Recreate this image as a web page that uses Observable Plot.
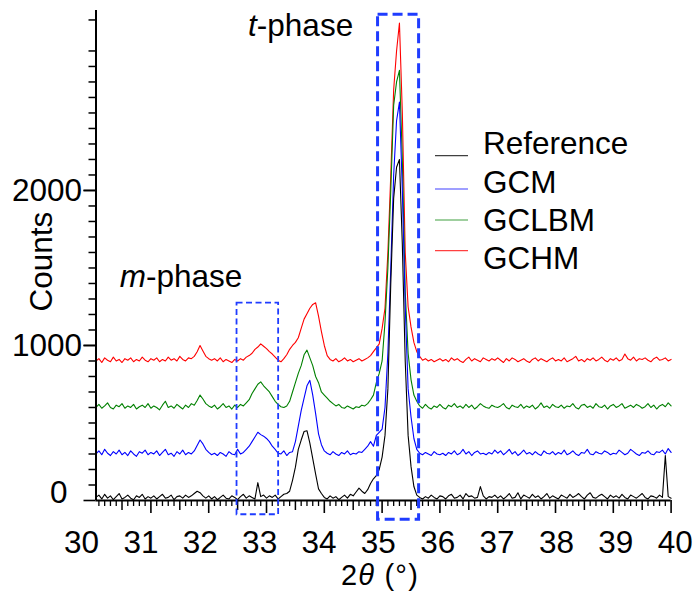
<!DOCTYPE html>
<html><head><meta charset="utf-8">
<script src="https://cdn.jsdelivr.net/npm/d3@7"></script>
<script src="https://cdn.jsdelivr.net/npm/@observablehq/plot@0.6"></script>
<style>body{margin:0;background:#fff} #chart{width:693px;height:594px}</style>
</head><body><div id="chart"></div>
<script>
// 2θ scan grid
const twoThetaStart = 30.05, twoThetaStep = 0.05;

// Counts, one value per 0.05° step (rows = 1° each)
const reference = [
 20,35,10,40,15,30,5,25,45,10,20,35,15,5,30,20,40,10,25,15,
 30,10,25,40,15,20,35,5,25,30,15,35,20,30,45,60,50,30,15,30,
 10,25,5,20,35,15,10,30,20,5,25,40,15,30,20,10,115,25,35,15,
 30,20,35,10,25,40,45,60,130,215,330,390,445,450,370,270,170,75,45,20,
 10,30,15,25,5,20,35,15,40,30,55,80,60,45,70,110,140,160,200,280,
 420,720,1400,1950,2150,2200,1650,900,420,220,90,35,20,10,25,15,35,20,10,30,
 25,10,30,40,15,20,35,10,45,25,30,15,20,90,30,10,25,20,35,15,
 30,10,25,45,15,20,50,10,35,25,15,40,20,30,10,25,45,15,30,20,
 10,35,25,15,40,20,30,45,25,10,35,50,20,15,30,40,25,10,35,20,
 30,15,40,20,10,35,25,15,30,45,20,10,30,25,15,35,20,290,25,15
];
const gcm = [
 300,320,295,330,305,290,315,300,325,295,310,290,320,300,285,315,305,325,295,310,
 300,320,290,310,330,295,305,285,315,300,325,295,310,300,320,355,390,365,330,310,
 295,305,290,310,300,285,315,300,295,330,300,310,330,350,380,410,440,425,415,400,
 380,350,330,305,300,320,290,310,315,380,480,580,660,740,775,680,560,430,360,320,
 305,295,315,300,290,310,300,320,295,305,300,315,310,330,350,380,350,420,440,460,
 600,950,1500,2100,2450,2570,2000,1250,720,540,400,330,305,295,310,300,290,315,300,295,
 305,290,310,300,320,295,305,330,300,315,290,310,320,300,305,295,310,300,325,305,
 320,295,310,330,300,315,290,305,325,300,310,295,315,300,290,320,305,300,315,295,
 310,300,325,295,305,320,300,290,310,305,330,300,295,315,305,300,320,310,295,305,
 300,325,310,295,305,330,315,300,290,310,305,320,300,295,315,310,325,300,335,310
];
const gclbm = [
 600,620,595,610,630,600,590,615,605,625,595,610,600,620,590,605,615,600,625,595,
 610,600,585,615,640,600,610,595,620,605,590,615,600,625,615,645,680,655,625,610,
 600,615,590,605,625,600,610,590,615,600,620,610,630,650,690,720,750,765,740,720,
 700,670,640,620,605,600,610,640,700,760,820,870,940,970,920,870,800,760,700,680,
 660,640,625,610,620,600,595,610,600,590,605,600,615,610,625,650,680,760,820,900,
 1150,1500,2000,2550,2700,2775,2200,1350,950,780,680,640,610,595,620,600,590,610,600,620,
 600,590,615,605,625,600,610,595,620,600,615,590,605,625,610,600,595,615,605,600,
 610,625,600,590,615,605,600,620,595,610,600,615,590,605,630,600,610,595,620,605,
 600,615,595,610,605,625,600,590,615,620,600,610,595,625,605,600,615,590,610,620,
 600,610,625,595,605,615,600,620,610,595,605,625,600,615,590,610,620,605,630,610
];
const gchm = [
 900,915,890,920,905,895,925,900,910,890,915,905,920,895,910,900,925,905,895,915,
 905,920,895,910,900,925,905,915,900,930,910,900,920,915,930,960,1000,965,930,915,
 905,915,900,920,895,910,900,890,910,900,915,905,925,935,950,975,990,1010,995,980,
 960,945,925,905,895,915,940,975,1000,1020,1050,1110,1170,1205,1240,1265,1275,1190,1090,1000,
 935,910,900,915,895,905,920,900,910,895,905,915,900,910,920,935,960,985,1010,1110,
 1240,1600,2100,2650,2900,3080,2500,1600,1250,1120,1020,960,930,905,915,900,910,895,905,915,
 900,910,895,920,905,915,900,890,910,925,900,915,905,895,920,910,900,915,905,920,
 905,890,915,900,920,910,895,905,915,900,890,910,920,900,915,905,895,910,920,900,
 910,900,920,895,905,915,930,900,910,895,915,905,920,900,910,925,905,895,915,905,
 920,900,910,945,915,905,925,900,915,910,920,905,895,915,925,905,910,920,900,910
];

const seriesNames = ["Reference", "GCM", "GCLBM", "GCHM"];
const seriesColors = ["#000000", "#0000ff", "#008000", "#ff0000"];
const seriesValues = [reference, gcm, gclbm, gchm];

const xTickLabels = [30, 31, 32, 33, 34, 35, 36, 37, 38, 39, 40];
const yTickLabels = [1000, 2000];

// Highlighted regions (2θ range, counts range)
const mPhaseBox = [{x1: 32.49, x2: 33.21, y1: -92, y2: 1273}];
const tPhaseBox = [{x1: 34.93, x2: 35.64, y1: -124, y2: 3134}];

// ---- build table ----
const rows = [];
seriesValues.forEach((vals, s) => vals.forEach((v, i) => rows.push({
  series: seriesNames[s], twoTheta: +(twoThetaStart + i * twoThetaStep).toFixed(2), counts: v
})));
const drawOrder = ["GCHM", "GCLBM", "GCM", "Reference"];
rows.sort((a, b) => drawOrder.indexOf(a.series) - drawOrder.indexOf(b.series));

const xMajor = xTickLabels.filter(d => d > 30);
const xHalf = d3.range(30.5, 40, 1);
const xMinor = d3.range(301, 400).filter(d => d % 5 !== 0).map(d => d / 10);
const yMajor = [0, 1000, 2000];
const yMinor = d3.range(100, 3200, 100).filter(d => d % 1000 !== 0);

const font = "'Liberation Sans', Arial, Helvetica, sans-serif";
const FS = 31.5;

const plot = Plot.plot({
  width: 693, height: 594,
  marginLeft: 95.5, marginRight: 22.4, marginTop: 10, marginBottom: 94,
  x: {domain: [30.05, 40], axis: null},
  y: {domain: [0, 3161], axis: null},
  color: {domain: seriesNames, range: seriesColors},
  style: {fontFamily: font, fontSize: FS + "px", background: "white", color: "black"},
  marks: [
    Plot.line(rows, {x: "twoTheta", y: "counts", z: "series", stroke: "series", strokeWidth: 1.1}),
    Plot.axisX({ticks: xMinor, tickSize: 6, tickFormat: () => "", strokeWidth: 1.3}),
    Plot.axisX({ticks: xHalf, tickSize: 10, tickFormat: () => "", strokeWidth: 1.5}),
    Plot.axisX({ticks: xMajor, tickSize: 13, tickFormat: () => "", strokeWidth: 1.6}),
    Plot.text(xTickLabels, {x: d => 29.80 + (d - 30) * 1.027, y: 0, dy: 42, text: d => String(d), fontSize: FS}),
    Plot.axisY({ticks: yMinor, tickSize: 7, tickFormat: () => "", strokeWidth: 1.5}),
    Plot.axisY({ticks: yMajor, tickSize: 12, tickFormat: () => "", strokeWidth: 1.6}),
    Plot.axisY({ticks: yTickLabels, tickSize: 12, tickPadding: 2, tickFormat: d => String(d), fontSize: FS, strokeWidth: 1.6}),
    Plot.text([0], {x: 30.05, y: 0, dx: -28.5, dy: -8, text: d => String(d), textAnchor: "end", fontSize: FS}),
    Plot.ruleY([0], {strokeWidth: 2}),
    Plot.ruleX([30.05], {strokeWidth: 2}),
    Plot.rect(mPhaseBox, {x1: "x1", x2: "x2", y1: "y1", y2: "y2", fill: "none", stroke: "#1f3cff", strokeWidth: 1.8, strokeDasharray: "6,3.5"}),
    Plot.rect(tPhaseBox, {x1: "x1", x2: "x2", y1: "y1", y2: "y2", fill: "none", stroke: "#1f3cff", strokeWidth: 3, strokeDasharray: "10,5"})
  ]
});
document.getElementById("chart").appendChild(plot);

// ---- annotations, axis titles, legend ----
const svg = d3.select(plot);
const xs = plot.scale("x"), ys = plot.scale("y");
const phaseLabels = [
  {ital: "t", rest: "-phase", x: 32.69, y: 3063},
  {ital: "m", rest: "-phase", x: 30.47, y: 1443}
];
phaseLabels.forEach(p => {
  const t = svg.append("text").attr("x", xs.apply(p.x)).attr("y", ys.apply(p.y)).attr("dy", "0.35em")
    .attr("text-anchor", "start")
    .attr("font-size", FS).attr("font-family", font).attr("fill", "black");
  t.append("tspan").attr("font-style", "italic").text(p.ital);
  t.append("tspan").text(p.rest);
});

const xt = svg.append("text").attr("x", 380).attr("y", 585).attr("text-anchor", "middle")
  .style("font-size", "29px").attr("letter-spacing", 1.2).attr("font-family", font).attr("fill", "black");
xt.append("tspan").text("2");
xt.append("tspan").attr("font-style", "italic").text("θ");
xt.append("tspan").text(" (°)");

svg.append("text").attr("transform", "translate(52,261.7) rotate(-90)").attr("text-anchor", "middle")
  .attr("font-size", FS).attr("font-family", font).attr("fill", "black").text("Counts");

const legendLineY = [155.7, 189, 220, 250.7];
const legendTextY = [154, 193, 230.7, 269];
const lg = svg.append("g").attr("text-anchor", "start");
seriesNames.forEach((name, i) => {
  lg.append("line").attr("x1", 435).attr("x2", 468).attr("y1", legendLineY[i]).attr("y2", legendLineY[i])
    .attr("stroke", seriesColors[i]).attr("stroke-width", 1.2).attr("stroke-opacity", 0.75);
  lg.append("text").attr("x", 483).attr("y", legendTextY[i]).attr("font-size", FS)
    .attr("text-anchor", "start")
    .attr("font-family", font).attr("fill", "black").text(name);
});
</script>
</body></html>
